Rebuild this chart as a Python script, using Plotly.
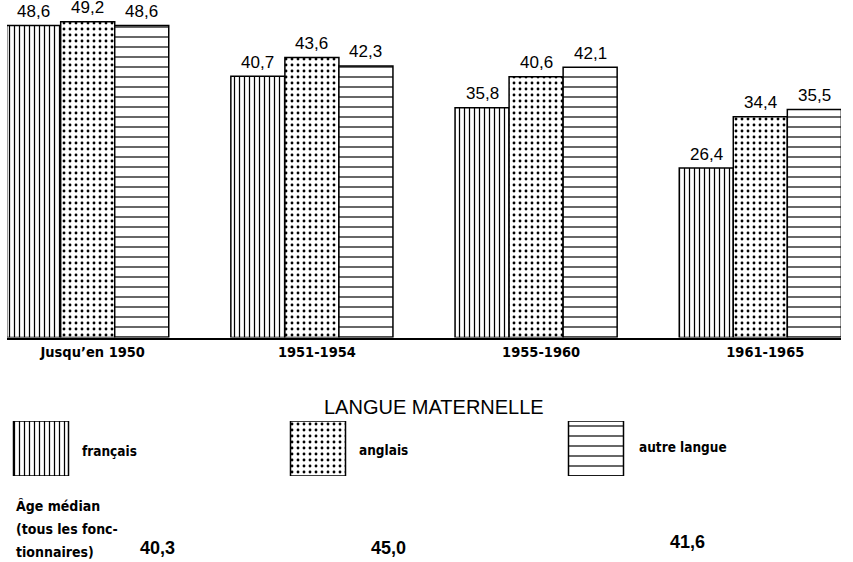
import plotly.graph_objects as go

# ---- data ----
categories = ["Jusqu’en 1950", "1951-1954", "1955-1960", "1961-1965"]
francais = [48.6, 40.7, 35.8, 26.4]
anglais = [49.2, 43.6, 40.6, 34.4]
autre = [48.6, 42.3, 42.1, 35.5]
series_names = ["français", "anglais", "autre langue"]
median_labels = ["40,3", "45,0", "41,6"]
legend_title = "LANGUE MATERNELLE"
median_title = ["Âge médian", "(tous les fonc-", "tionnaires)"]

# ---- layout helpers (pixel geometry, in window pixels) ----
W, H = 853, 562
ML, MR, MT, MB = 7, 12, 2, 2
PW, PH = W - ML - MR, H - MT - MB


def px_x(px):
    return (px - ML) / PW


def px_y(py):
    return (H - MB - py) / PH


def fmt(v):
    return f"{v:.1f}".replace(".", ",")


NUM_FONT = "Liberation Sans, Arial, sans-serif"
COND_FONT = "DejaVu Sans Condensed, Liberation Sans Narrow, sans-serif"

patterns = [
    dict(shape="|", size=5, solidity=0.25),
    dict(shape=".", size=6, solidity=0.18),
    dict(shape="-", size=10, solidity=0.12),
]

BASE_PX = 337.5        # window y of the baseline
PX_PER_UNIT = 6.42
group_center0 = 87.7   # window x of first group centre
PX_PER_CAT = 224.2
BARGAP = 0.277
BAR_PX = PX_PER_CAT * (1 - BARGAP) / 3

fig = go.Figure()
series = [francais, anglais, autre]
for name, vals, pat in zip(series_names, series, patterns):
    fig.add_trace(go.Bar(
        x=categories, y=vals, name=name,
        marker=dict(color="white", line=dict(color="black", width=1.5),
                    pattern=dict(fgcolor="black", bgcolor="white",
                                 fillmode="replace", **pat)),
        xaxis="x", yaxis="y", showlegend=False,
    ))

# legend swatches drawn as a second little bar axis
SWATCH_X = [41, 318, 596]
for xpos, pat, name in zip(SWATCH_X, patterns, series_names):
    fig.add_trace(go.Bar(
        x=[xpos], y=[1], width=[55], name=name,
        marker=dict(color="white", line=dict(color="black", width=1.5),
                    pattern=dict(fgcolor="black", bgcolor="white",
                                 fillmode="replace", **pat)),
        xaxis="x2", yaxis="y2", showlegend=False, hoverinfo="skip",
    ))

x0 = -(group_center0 - ML) / PX_PER_CAT
x1 = x0 + PW / PX_PER_CAT

fig.update_layout(
    width=W, height=H,
    margin=dict(l=ML, r=MR, t=MT, b=MB),
    paper_bgcolor="white", plot_bgcolor="white",
    barmode="group", bargap=BARGAP, bargroupgap=0,
    showlegend=False,
    xaxis=dict(domain=[0, 1], range=[x0, x1], showgrid=False,
               showline=True, linecolor="black", linewidth=2,
               ticks="", zeroline=False, anchor="y", ticklabelshift=5,
               tickfont=dict(family=COND_FONT, size=14.5, color="black",
                             weight="bold")),
    yaxis=dict(domain=[px_y(BASE_PX), 1],
               range=[0, (BASE_PX - MT) / PX_PER_UNIT],
               visible=False, showgrid=False, zeroline=False),
    xaxis2=dict(domain=[0, 1], range=[ML, ML + PW], visible=False,
                anchor="y2"),
    yaxis2=dict(domain=[px_y(476), px_y(421)], range=[0, 1], visible=False,
                anchor="x2"),
)

ann = []
# value labels above bars
for i, vals in enumerate(series):
    for cat, v in zip(categories, vals):
        ann.append(dict(text=fmt(v), x=cat, y=v, xref="x", yref="y",
                        xshift=(i - 1) * BAR_PX, yshift=3.5, showarrow=False,
                        xanchor="center", yanchor="bottom", borderpad=0,
                        font=dict(family=NUM_FONT, size=17, color="black")))

ann.append(dict(text=legend_title, x=px_x(434), y=px_y(407), xref="paper",
                yref="paper", showarrow=False, xanchor="center", yanchor="middle",
                font=dict(family=NUM_FONT, size=20, color="black")))
for lx, ly, name in zip([80, 357, 637], [451, 450, 447], series_names):
    ann.append(dict(text=f"<b>{name}</b>", x=px_x(lx), y=px_y(ly), xref="paper",
                    yref="paper", showarrow=False, xanchor="left",
                    yanchor="middle",
                    font=dict(family=COND_FONT, size=13.5, color="black")))
for line, ly in zip(median_title, [506, 529, 552]):
    ann.append(dict(text=f"<b>{line}</b>", x=px_x(14), y=px_y(ly), xref="paper",
                    yref="paper", showarrow=False, xanchor="left", yanchor="middle",
                    font=dict(family=COND_FONT, size=14, color="black")))
for lbl, mx, my in zip(median_labels, [157, 388, 687], [548, 548, 542]):
    ann.append(dict(text=f"<b>{lbl}</b>", x=px_x(mx), y=px_y(my), xref="paper",
                    yref="paper", showarrow=False, xanchor="center", yanchor="middle",
                    font=dict(family=NUM_FONT, size=18, color="black")))
fig.update_layout(annotations=ann)

fig.write_html(
    "out.html",
    config={"displayModeBar": False},
    post_script="document.body.style.margin='0';"
                "document.body.style.overflow='hidden';",
)
